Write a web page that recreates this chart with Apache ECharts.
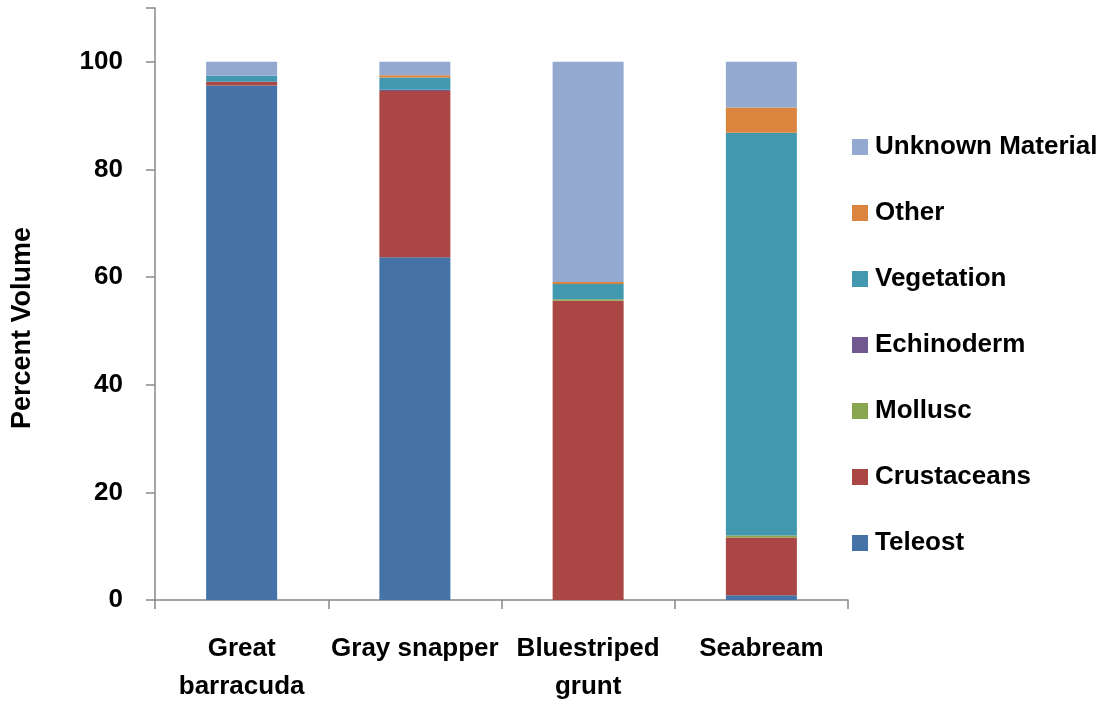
<!DOCTYPE html>
<html>
<head>
<meta charset="utf-8">
<script src="https://cdn.jsdelivr.net/npm/echarts@6/dist/echarts.min.js"></script>
<style>html,body{margin:0;padding:0;background:#fff;}#c{width:1107px;height:708px;}</style>
</head>
<body>
<div id="c"></div>
<script>
const categories = ["Great\nbarracuda", "Gray snapper", "Bluestriped\ngrunt", "Seabream"];
const teleost     = [95.6, 63.7, 0,    0.9];
const crustaceans = [0.7,  30.9, 55.6, 10.7];
const mollusc     = [0,    0,    0.3,  0.4];
const echinoderm  = [0,    0.2,  0,    0];
const vegetation  = [1.1,  2.3,  2.8,  74.8];
const other       = [0,    0.4,  0.4,  4.7];
const unknown     = [2.6,  2.5,  40.9, 8.5];
const yTicks = [0, 20, 40, 60, 80, 100];
const yTitle = "Percent Volume";

const names  = ["Teleost", "Crustaceans", "Mollusc", "Echinoderm", "Vegetation", "Other", "Unknown Material"];
const values = [teleost, crustaceans, mollusc, echinoderm, vegetation, other, unknown];
const colors = ["#4572A7", "#AA4643", "#89A54E", "#71588F", "#4198AF", "#DB843D", "#93A9CF"];

const font = "'Liberation Sans', Arial, sans-serif";
const chart = echarts.init(document.getElementById('c'));
chart.setOption({
  animation: false,
  grid: { left: 155, right: 259, top: 8, bottom: 108, containLabel: false },
  graphic: [{
    type: 'text', x: 23, y: 328, rotation: Math.PI / 2,
    style: { text: yTitle, fontFamily: font, fontWeight: 'bold', fontSize: 27, fill: '#000',
      align: 'center', verticalAlign: 'middle' }
  }],
  legend: {
    orient: 'vertical',
    left: 852, top: 134, padding: 0,
    data: names.slice().reverse(),
    icon: 'rect', itemWidth: 16, itemHeight: 16, itemGap: 40,
    textStyle: { fontFamily: font, fontWeight: 'bold', fontSize: 26, color: '#000', lineHeight: 26, padding: [0,0,0,2] }
  },
  xAxis: {
    type: 'category', data: categories,
    axisLine: { lineStyle: { color: '#888888', width: 1.5 } },
    axisTick: { show: true, length: 9, lineStyle: { color: '#888888', width: 1.5 } },
    axisLabel: { fontFamily: font, fontWeight: 'bold', fontSize: 26, color: '#000', lineHeight: 38, margin: 30, interval: 0 }
  },
  yAxis: {
    type: 'value', min: 0, max: 110, interval: 20,
    axisLine: { show: true, lineStyle: { color: '#888888', width: 1.5 } },
    axisTick: { show: true, length: 9, lineStyle: { color: '#888888', width: 1.5 } },
    splitLine: { show: false },
    axisLabel: { fontFamily: font, fontWeight: 'bold', fontSize: 26, color: '#000', margin: 32,
      formatter: v => yTicks.includes(v) ? String(v) : '' }
  },
  series: names.map((n, i) => ({
    name: n, type: 'bar', stack: 'total', data: values[i], barWidth: 71,
    itemStyle: { color: colors[i] }
  }))
});
</script>
</body>
</html>
